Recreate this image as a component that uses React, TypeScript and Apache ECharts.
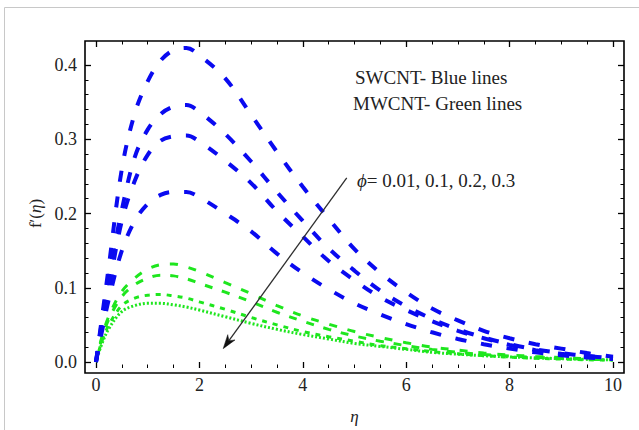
import React, { useEffect, useRef } from "react";
import * as echarts from "echarts";

// η sample points
const eta = [0, 0.1, 0.25, 0.5, 0.75, 1, 1.25, 1.5, 1.75, 2, 2.5, 3, 3.5, 4, 4.5, 5, 5.5, 6, 6.5, 7, 7.5, 8, 8.5, 9, 9.5, 10];

// SWCNT (blue) f'(η), φ = 0.01, 0.1, 0.2, 0.3
const swcnt1 = [0, 0.052, 0.13, 0.26, 0.335, 0.378, 0.406, 0.42, 0.423, 0.413, 0.382, 0.333, 0.283, 0.236, 0.193, 0.152, 0.12, 0.094, 0.072, 0.056, 0.042, 0.032, 0.024, 0.018, 0.012, 0.007];
const swcnt2 = [0, 0.048, 0.115, 0.205, 0.276, 0.313, 0.334, 0.344, 0.346, 0.337, 0.307, 0.27, 0.229, 0.19, 0.153, 0.123, 0.096, 0.075, 0.058, 0.044, 0.033, 0.024, 0.017, 0.012, 0.008, 0.005];
const swcnt3 = [0, 0.042, 0.1, 0.19, 0.244, 0.279, 0.298, 0.304, 0.305, 0.297, 0.271, 0.241, 0.203, 0.169, 0.136, 0.11, 0.087, 0.07, 0.055, 0.042, 0.032, 0.023, 0.016, 0.011, 0.008, 0.005];
const swcnt4 = [0, 0.036, 0.085, 0.15, 0.19, 0.213, 0.225, 0.229, 0.229, 0.222, 0.2, 0.176, 0.146, 0.12, 0.098, 0.079, 0.064, 0.051, 0.04, 0.031, 0.024, 0.018, 0.013, 0.009, 0.006, 0.004];

// MWCNT (green) f'(η), φ = 0.01, 0.1, 0.2, 0.3
const mwcnt1 = [0, 0.03, 0.062, 0.095, 0.113, 0.125, 0.131, 0.132, 0.128, 0.122, 0.107, 0.092, 0.076, 0.062, 0.051, 0.041, 0.033, 0.026, 0.02, 0.016, 0.012, 0.0095, 0.0075, 0.006, 0.0045, 0.0035];
const mwcnt2 = [0, 0.028, 0.058, 0.088, 0.104, 0.113, 0.117, 0.116, 0.112, 0.106, 0.094, 0.081, 0.067, 0.055, 0.044, 0.035, 0.028, 0.022, 0.017, 0.013, 0.01, 0.008, 0.0062, 0.0048, 0.0038, 0.003];
const mwcnt3 = [0, 0.025, 0.05, 0.076, 0.086, 0.09, 0.091, 0.089, 0.086, 0.081, 0.071, 0.06, 0.05, 0.041, 0.034, 0.028, 0.022, 0.018, 0.014, 0.011, 0.0085, 0.0066, 0.005, 0.004, 0.003, 0.0025];
const mwcnt4 = [0, 0.022, 0.045, 0.068, 0.076, 0.079, 0.079, 0.077, 0.074, 0.07, 0.061, 0.052, 0.044, 0.037, 0.031, 0.025, 0.021, 0.017, 0.013, 0.0105, 0.0085, 0.0068, 0.0055, 0.0045, 0.0035, 0.003];

// Annotation arrow (data coordinates)
const arrowStart = [4.85, 0.248];
const arrowEnd = [2.46, 0.018];

const swcntLabel = "SWCNT- Blue lines";
const mwcntLabel = "MWCNT- Green lines";
const phiValues = "= 0.01, 0.1, 0.2, 0.3";

const FONT = "'Liberation Serif', 'Times New Roman', serif";
const BLUE = "#0a0af0";
const GREEN = "#1ee61e";

export default function App() {
  const ref = useRef<HTMLDivElement>(null);

  useEffect(() => {
    const chart = echarts.init(ref.current!, null, { renderer: "svg" });

    const mk = (ys: number[], color: string, dash: any, width: number, z: number) => ({
      type: "line",
      data: eta.map((x, i) => [x, ys[i]]),
      xAxisIndex: 0,
      yAxisIndex: 0,
      smooth: 0.35,
      symbol: "none",
      clip: false,
      z,
      lineStyle: { color, width, type: dash, cap: "butt" },
    });

    const tickBase = {
      axisLine: { show: false, onZero: false },
      axisTick: { show: true, inside: true, length: 6, lineStyle: { color: "#000", width: 1.3 } },
      splitLine: { show: false },
      minorSplitLine: { show: false },
    };

    const staticGraphic: any[] = [
      {
        id: "outer",
        type: "rect",
        shape: { x: 4.5, y: 7.5, width: 700, height: 500 },
        style: { fill: "none", stroke: "#c8c8c8", lineWidth: 1 },
        silent: true,
        z: -1,
      },
      {
        id: "frame",
        type: "rect",
        shape: { x: 85, y: 41, width: 539, height: 332 },
        style: { fill: "none", stroke: "#000", lineWidth: 1.6 },
        silent: true,
        z: 10,
      },
      {
        id: "t1",
        type: "text",
        x: 355,
        y: 77,
        style: { text: swcntLabel, fontSize: 19, fontFamily: FONT, fill: "#222", verticalAlign: "middle" },
        z: 10,
      },
      {
        id: "t2",
        type: "text",
        x: 353,
        y: 103,
        style: { text: mwcntLabel, fontSize: 19, fontFamily: FONT, fill: "#222", verticalAlign: "middle" },
        z: 10,
      },
      {
        id: "t3",
        type: "text",
        x: 357,
        y: 180,
        style: {
          text: "{i|ϕ}{n|" + phiValues + "}",
          verticalAlign: "middle",
          rich: {
            i: { fontSize: 19, fontFamily: FONT, fontStyle: "italic", fill: "#222" },
            n: { fontSize: 19, fontFamily: FONT, fill: "#222" },
          },
        },
        z: 10,
      },
    ];

    const option: any = {
      animation: false,
      backgroundColor: "#fff",
      grid: [{ left: 96, right: 26, top: 65, bottom: 63.3 }],
      xAxis: [
        {
          ...tickBase,
          type: "value",
          min: 0,
          max: 10,
          interval: 2,
          position: "bottom",
          offset: 6,
          minorTick: { show: true, splitNumber: 4, length: 3.5, lineStyle: { color: "#000", width: 1 } },
          axisLabel: { margin: 8, fontSize: 18, fontFamily: FONT, color: "#222" },
          name: "η",
          nameLocation: "middle",
          nameGap: 40,
          nameTextStyle: { fontSize: 17, fontFamily: FONT, fontStyle: "italic", color: "#222" },
        },
        {
          ...tickBase,
          type: "value",
          min: 0,
          max: 10,
          interval: 2,
          position: "top",
          offset: 24,
          minorTick: { show: true, splitNumber: 4, length: 3.5, lineStyle: { color: "#000", width: 1 } },
          axisLabel: { show: false },
        },
      ],
      yAxis: [
        {
          ...tickBase,
          type: "value",
          min: 0,
          max: 0.4,
          interval: 0.1,
          position: "left",
          offset: 11,
          minorTick: { show: true, splitNumber: 5, length: 3.5, lineStyle: { color: "#000", width: 1 } },
          axisLabel: {
            margin: 8,
            fontSize: 18,
            fontFamily: FONT,
            color: "#222",
            formatter: (v: number) => v.toFixed(1),
          },
          name: "{n|f′(}{i|η}{n|)}",
          nameLocation: "middle",
          nameRotate: 90,
          nameGap: 40,
          nameTextStyle: {
            rich: {
              n: { fontSize: 17, fontFamily: FONT, color: "#222" },
              i: { fontSize: 17, fontFamily: FONT, fontStyle: "italic", color: "#222" },
            },
          },
        },
        {
          ...tickBase,
          type: "value",
          min: 0,
          max: 0.4,
          interval: 0.1,
          position: "right",
          offset: 11,
          minorTick: { show: true, splitNumber: 5, length: 3.5, lineStyle: { color: "#000", width: 1 } },
          axisLabel: { show: false },
        },
      ],
      graphic: staticGraphic,
      series: [
        mk(mwcnt1, GREEN, [8, 11], 3, 2),
        mk(mwcnt2, GREEN, [8, 10], 3, 2),
        mk(mwcnt3, GREEN, [5, 6], 3, 2),
        mk(mwcnt4, GREEN, [2, 2], 3, 2),
        mk(swcnt1, BLUE, [11, 15], 4, 3),
        mk(swcnt2, BLUE, [11, 15], 4, 3),
        mk(swcnt3, BLUE, [11, 15], 4, 3),
        mk(swcnt4, BLUE, [11, 15], 4, 3),
      ],
    };

    chart.setOption(option);

    // Arrow drawn from data coordinates converted through the chart's own scales
    const p0 = chart.convertToPixel({ gridIndex: 0 }, arrowStart) as number[];
    const p1 = chart.convertToPixel({ gridIndex: 0 }, arrowEnd) as number[];
    if (p0 && p1) {
      const dx = p1[0] - p0[0];
      const dy = p1[1] - p0[1];
      const len = Math.sqrt(dx * dx + dy * dy);
      const ux = dx / len;
      const uy = dy / len;
      const nx = -uy;
      const ny = ux;
      const L = 14;
      const W = 4.5;
      const bx = p1[0] - ux * L;
      const by = p1[1] - uy * L;
      const notchX = p1[0] - ux * L * 0.7;
      const notchY = p1[1] - uy * L * 0.7;
      chart.setOption({
        graphic: [
          ...staticGraphic,
          {
            id: "arrowLine",
            type: "line",
            shape: { x1: p0[0], y1: p0[1], x2: notchX, y2: notchY },
            style: { stroke: "#2e2e2e", lineWidth: 1.3 },
            silent: true,
            z: 9,
          },
          {
            id: "arrowHead",
            type: "polygon",
            shape: {
              points: [
                [p1[0], p1[1]],
                [bx + nx * W, by + ny * W],
                [notchX, notchY],
                [bx - nx * W, by - ny * W],
              ],
            },
            style: { fill: "#111", stroke: "#111", lineWidth: 0.5 },
            silent: true,
            z: 9,
          },
        ],
      });
    }

    return () => chart.dispose();
  }, []);

  return (
    <div
      ref={ref}
      style={{ position: "fixed", left: 0, top: 0, width: 639, height: 430, background: "#fff" }}
    />
  );
}
